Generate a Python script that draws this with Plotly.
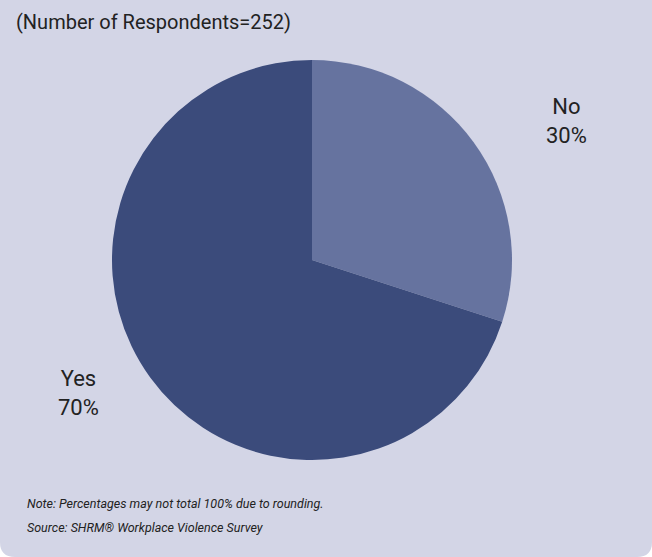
import plotly.graph_objects as go

# Survey answers and their shares (percent)
answers = ["No", "Yes"]
shares = [30, 70]
slice_colors = ["#66739f", "#3b4b7b"]

respondents = 252
note_lines = [
    "Note: Percentages may not total 100% due to rounding.",
    "Source: SHRM® Workplace Violence Survey",
]

W, H = 652, 557
PANEL = "#d3d5e6"
TEXT = "#222222"
FONT = "Roboto, Liberation Sans, sans-serif"

fig = go.Figure()

fig.add_trace(go.Pie(
    labels=answers,
    values=shares,
    sort=False,
    direction="clockwise",
    rotation=0,
    textinfo="none",
    hoverinfo="label+percent",
    marker=dict(colors=slice_colors, line=dict(width=0)),
    domain=dict(x=[112 / W, 512 / W], y=[97 / H, 497 / H]),
    showlegend=False,
))

# Panel with rounded lower corners
r = 15
panel_path = (
    f"M 0,0 L {W},0 L {W},{H - r} Q {W},{H} {W - r},{H} "
    f"L {r},{H} Q 0,{H} 0,{H - r} Z"
)

label_pos = {"No": (566, 121), "Yes": (78, 393)}
annotations = []
for a, s in zip(answers, shares):
    x, y = label_pos[a]
    annotations.append(dict(
        x=x / W, y=1 - y / H, xref="paper", yref="paper",
        text=f"{a}<br>{s}%", showarrow=False,
        xanchor="center", yanchor="middle", align="center",
        font=dict(family=FONT, size=22, color=TEXT),
    ))

annotations.append(dict(
    x=14 / W, y=1 - 22 / H, xref="paper", yref="paper",
    text=f"(Number of Respondents={respondents})", showarrow=False,
    xanchor="left", yanchor="middle",
    font=dict(family=FONT, size=20, color=TEXT),
))

for i, line in enumerate(note_lines):
    annotations.append(dict(
        x=25 / W, y=1 - (503 + i * 24) / H, xref="paper", yref="paper",
        text=f"<i>{line}</i>", showarrow=False,
        xanchor="left", yanchor="middle",
        font=dict(family=FONT, size=12.5, color=TEXT),
    ))

fig.update_layout(
    width=W, height=H,
    margin=dict(l=0, r=0, t=0, b=0),
    paper_bgcolor="white",
    plot_bgcolor="white",
    shapes=[dict(
        type="path", path=panel_path, xref="x", yref="y",
        fillcolor=PANEL, line=dict(width=0), layer="below",
    )],
    xaxis=dict(range=[0, W], visible=False, fixedrange=True),
    yaxis=dict(range=[H, 0], visible=False, fixedrange=True),
    annotations=annotations,
)

fig.write_html("out.html")
